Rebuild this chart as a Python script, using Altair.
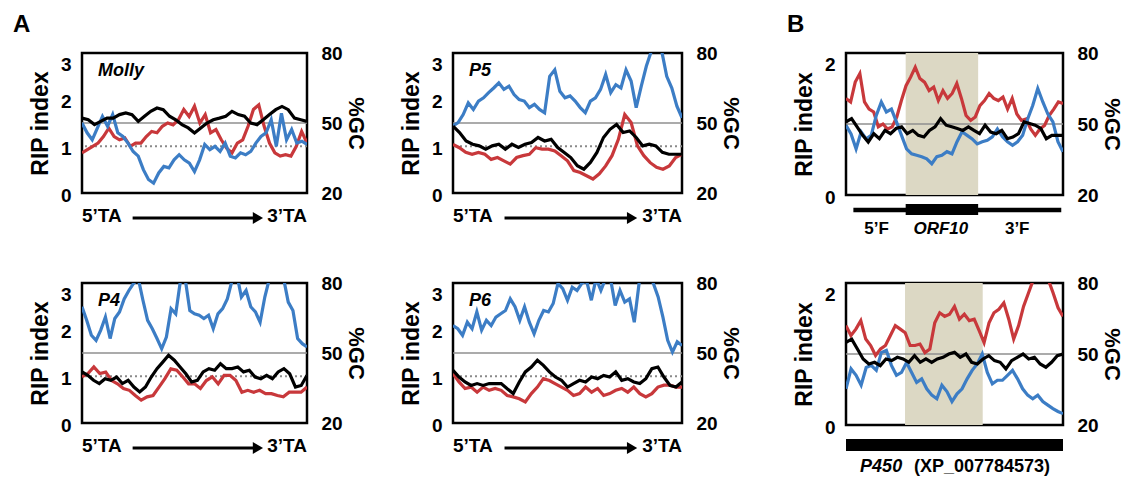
import altair as alt
import pandas as pd

FONT = "Liberation Sans"
BLUE = "#3c7dc5"
RED = "#c8383b"
SHADE = "#dcd8c4"

# ---------------- data ----------------
molly_blue = [1.5, 1.29, 1.14, 1.39, 1.64, 1.43, 1.68, 1.29, 1.21, 1.07, 0.89, 0.79, 0.5, 0.29, 0.21,
              0.43, 0.57, 0.54, 0.71, 0.82, 0.71, 0.64, 0.46, 0.71, 1.04, 0.93, 1.0, 0.89, 1.07, 0.79,
              0.75, 0.86, 0.82, 0.89, 1.07, 1.21, 1.29, 1.57, 1.0, 1.71, 1.14, 1.36, 1.07, 1.11, 1.04]
molly_red = [0.86, 0.93, 1.0, 1.07, 1.21, 1.39, 1.21, 1.14, 1.18, 1.0, 1.07, 1.07, 1.21, 1.32, 1.29,
             1.43, 1.5, 1.46, 1.57, 1.79, 1.64, 1.86, 1.5, 1.68, 1.29, 1.36, 1.14, 0.96, 0.86, 1.07,
             1.14, 1.43, 1.79, 1.89, 1.43, 1.07, 0.86, 0.79, 0.82, 0.79, 1.0, 1.32, 1.07]
molly_gc = [52.1, 51.4, 49.3, 50.7, 52.1, 52.1, 53.6, 54.3, 53.6, 50.7, 52.9, 55.0, 56.4, 55.7, 52.9,
            51.4, 49.3, 47.9, 45.7, 47.9, 50.0, 51.4, 52.1, 52.9, 55.0, 53.6, 52.9, 50.0, 49.3, 51.4,
            53.6, 55.7, 57.1, 55.7, 52.1, 51.4, 50.7]

p5_blue = [1.44, 1.51, 1.68, 1.93, 1.79, 1.97, 2.04, 2.15, 2.25, 2.36, 2.22, 2.29, 2.11, 2.0, 1.97,
           1.83, 1.9, 1.79, 1.72, 2.5, 2.64, 2.18, 2.04, 2.08, 1.97, 1.83, 1.72, 1.97, 2.04, 2.22,
           2.54, 2.15, 2.32, 2.25, 2.64, 2.4, 1.83, 2.29, 2.72, 3.05, 3.1, 3.05, 2.5, 2.25, 1.86, 1.61]
p5_red = [1.04, 0.97, 0.87, 0.83, 0.87, 0.83, 0.72, 0.76, 0.69, 0.62, 0.76, 0.8, 0.83, 0.97, 0.94,
          0.94, 0.9, 0.8, 0.69, 0.48, 0.44, 0.37, 0.3, 0.41, 0.58, 0.8, 1.15, 1.68, 1.51, 1.01,
          0.8, 0.65, 0.55, 0.51, 0.58, 0.76, 0.83]
p5_gc = [48.7, 45.9, 42.3, 40.9, 40.2, 38.8, 40.2, 40.9, 38.8, 40.9, 39.5, 40.9, 41.6, 43.8, 42.3,
         43.0, 39.5, 37.4, 35.2, 31.7, 30.2, 33.1, 37.4, 43.8, 47.3, 49.4, 45.9, 46.6, 43.8, 40.2,
         40.9, 40.2, 37.4, 36.6, 36.6, 36.6]

p4_blue = [2.49, 2.2, 1.88, 1.77, 1.99, 2.27, 1.81, 2.24, 2.38, 2.66, 2.84, 2.99, 3.1, 2.63, 2.2,
           2.02, 1.81, 1.59, 1.84, 2.45, 2.34, 3.05, 3.1, 2.41, 2.34, 2.31, 2.24, 2.31, 2.02, 2.34,
           2.45, 2.66, 3.05, 3.2, 2.7, 2.84, 2.49, 2.38, 2.16, 2.7, 3.1, 3.4, 3.4, 3.1, 2.59, 2.41,
           1.81, 1.7, 1.63]
p4_red = [0.99, 1.06, 1.2, 1.06, 1.09, 0.91, 0.84, 0.74, 0.7, 0.59, 0.49, 0.56, 0.59, 0.77, 0.95,
          1.16, 1.13, 0.99, 0.84, 0.84, 0.74, 0.91, 0.99, 0.84, 1.02, 1.02, 0.91, 0.66, 0.7, 0.66,
          0.7, 0.63, 0.63, 0.59, 0.56, 0.66, 0.66, 0.66, 0.77]
p4_gc = [41.9, 40.4, 38.3, 36.9, 39.0, 38.3, 39.7, 36.9, 38.3, 35.4, 33.3, 35.4, 39.7, 43.3, 46.1,
         49.0, 46.9, 44.0, 41.1, 37.6, 38.3, 41.9, 43.3, 42.6, 45.4, 43.3, 43.3, 44.0, 41.9, 42.6,
         39.7, 39.0, 40.4, 39.0, 41.9, 43.3, 41.1, 35.4, 36.1, 40.4]

p6_blue = [2.09, 2.02, 1.88, 2.16, 2.02, 2.38, 1.99, 2.2, 2.09, 2.27, 2.34, 2.41, 2.66, 2.49, 2.2,
           2.49, 2.16, 1.91, 2.2, 2.41, 2.38, 2.56, 2.99, 2.88, 2.63, 2.91, 2.84, 2.99, 3.05, 2.63,
           3.1, 2.84, 3.1, 3.1, 2.52, 2.84, 2.59, 2.66, 2.16, 2.99, 3.3, 3.3, 2.99, 2.7, 2.27, 1.77,
           1.52, 1.74, 1.66]
p6_red = [1.06, 0.88, 0.74, 0.77, 0.66, 0.77, 0.7, 0.74, 0.7, 0.59, 0.56, 0.52, 0.45, 0.63, 0.77,
          0.95, 0.91, 0.84, 0.77, 0.7, 0.59, 0.63, 0.77, 0.66, 0.74, 0.59, 0.63, 0.7, 0.74, 0.66,
          0.77, 0.63, 0.56, 0.63, 0.77, 0.81, 0.81, 0.77, 0.77]
p6_gc = [42.6, 39.7, 37.6, 36.1, 36.9, 36.1, 36.9, 36.9, 36.9, 34.7, 32.6, 37.6, 41.9, 44.0, 46.9,
         44.7, 41.9, 39.7, 38.3, 35.4, 36.9, 38.3, 37.6, 39.7, 39.0, 40.4, 39.7, 41.9, 38.3, 39.0,
         37.6, 36.9, 39.0, 43.3, 44.0, 39.7, 36.1, 35.4, 37.6]

orf10_red = [1.36, 1.31, 1.59, 1.71, 1.31, 1.21, 1.17, 0.96, 1.0, 0.93, 0.96, 1.1, 1.33, 1.54, 1.66,
             1.8, 1.64, 1.59, 1.47, 1.52, 1.33, 1.47, 1.36, 1.43, 1.57, 1.36, 1.12, 1.05, 1.1, 1.26,
             1.33, 1.43, 1.36, 1.33, 1.38, 1.21, 1.36, 1.14, 1.05, 1.07, 0.93, 0.84, 0.93, 0.98, 1.12,
             1.21, 1.31, 1.29]
orf10_blue = [0.98, 0.86, 0.65, 0.89, 0.79, 0.84, 1.12, 1.31, 1.17, 1.21, 1.03, 0.84, 0.65, 0.58, 0.56,
              0.54, 0.51, 0.44, 0.54, 0.56, 0.61, 0.58, 0.75, 0.89, 0.84, 0.79, 0.72, 0.75, 0.77, 0.82,
              0.93, 0.82, 0.75, 0.7, 0.75, 0.84, 1.07, 1.26, 1.5, 1.31, 1.14, 1.03, 0.75, 0.61]
orf10_gc = [50.9, 52.3, 48.8, 45.2, 42.4, 45.9, 43.8, 47.3, 45.9, 48.1, 48.8, 45.9, 47.3, 45.2, 44.5,
            47.3, 48.8, 52.3, 49.5, 48.8, 48.1, 47.3, 48.8, 47.3, 45.9, 49.5, 46.6, 45.9, 47.3, 43.8,
            44.5, 45.9, 50.9, 50.2, 49.5, 48.1, 43.8, 45.2, 45.2, 45.2]

p450_red = [1.4, 1.26, 1.35, 1.47, 1.21, 1.12, 0.98, 1.07, 1.12, 1.26, 1.4, 1.35, 1.3, 1.12, 1.12,
            1.14, 1.02, 1.07, 1.44, 1.58, 1.53, 1.56, 1.67, 1.49, 1.56, 1.47, 1.49, 1.33, 1.16, 1.44,
            1.58, 1.63, 1.72, 1.49, 1.21, 1.4, 1.67, 1.86, 2.05, 2.1, 2.07, 2.05, 1.86, 1.65, 1.53]
p450_blue = [0.51, 0.79, 0.7, 0.56, 0.81, 0.84, 0.77, 1.02, 1.05, 0.84, 0.7, 0.74, 0.88, 0.74, 0.6,
             0.65, 0.51, 0.42, 0.37, 0.56, 0.47, 0.33, 0.44, 0.51, 0.65, 0.77, 0.86, 1.0, 0.74, 0.58,
             0.63, 0.63, 0.7, 0.77, 0.65, 0.51, 0.42, 0.37, 0.42, 0.33, 0.28, 0.23, 0.19, 0.16]
p450_gc = [54.9, 56.3, 52.1, 47.9, 45.8, 46.5, 45.1, 47.9, 47.2, 48.6, 47.9, 46.5, 49.3, 46.5, 47.9,
           46.5, 47.9, 48.6, 50.0, 50.7, 48.6, 50.0, 46.5, 45.8, 47.9, 49.3, 47.2, 46.5, 43.7, 47.2,
           48.6, 50.0, 47.9, 48.6, 45.8, 44.4, 46.5, 49.3, 50.0]

# axis ticks / reference lines
A_RIP_TICKS = [0, 1, 2, 3]
B_RIP_TICKS = [0, 1, 2]
GC_TICKS = [20, 50, 80]
A_SOLID_LINE = [1.5]
A_DOTTED_LINE = [1.0]
B_SOLID_LINE = [1.0]

# annotation positions along the element (percent of the window)
TA_LABELS = ["5\u2019TA", "3\u2019TA"]
TA_ARROW = [22.5, 77.0]
TA_ARROW_HEAD = [78.2]
ORF10_SHADE = [27.5, 60.9]
ORF10_FLANK = [3.4, 99.2]
ORF10_LABELS = ["5\u2019F", "ORF10", "3\u2019F"]
ORF10_LABEL_X = [14.1, 43.7, 78.9]
P450_SHADE = [27.2, 63.0]
P450_BAR = [0, 100]
P450_LABELS = ["P450", "(XP_007784573)"]
P450_LABEL_X = [6.5, 31.3]

# ---------------- helpers ----------------
XS = alt.X("x:Q", scale=alt.Scale(domain=[0, 100]), axis=None)
LW = 3.2


def series_df(vals):
    n = len(vals)
    return pd.DataFrame({"x": [i * 100.0 / (n - 1) for i in range(n)], "v": vals})


def left_axis(ticks):
    return alt.Axis(values=ticks, format="d", title="RIP index", titleFontSize=23,
                    titleFontWeight="bold", titleFont=FONT, titleColor="black", titlePadding=8,
                    labelFontSize=19, labelFontWeight="bold", labelFont=FONT, labelColor="black",
                    labelPadding=11, labelOffset=2, ticks=False, domain=False, grid=False,
                    labelBaseline={"condition": {"test": f"datum.value == {ticks[-1]}", "value": "top"},
                                   "value": "middle"})


def right_axis():
    return alt.Axis(values=GC_TICKS, format="d", orient="right", title="%GC", titleFontSize=22,
                    titleFontWeight="bold", titleFont=FONT, titleColor="black", titlePadding=1,
                    labelFontSize=19, labelFontWeight="bold", labelFont=FONT, labelColor="black",
                    labelPadding=14, ticks=False, domain=False, grid=False)


def txt(texts, xs, y, align="center", size=19, style="normal", weight="bold"):
    df = pd.DataFrame({"x": xs, "t": texts})
    return alt.Chart(df).mark_text(align=align, baseline="middle", fontSize=size, font=FONT,
                                   fontStyle=style, fontWeight=weight, color="black").encode(
        x=XS, y=alt.value(y), text="t:N")


def panel(name, blue, red, gc, ticks, kind, width, height, letter=None):
    ymax = ticks[-1]
    ys = alt.Y("v:Q", scale=alt.Scale(domain=[0, ymax]), axis=left_axis(ticks))
    layers = []
    if kind == "orf10" or kind == "p450":
        sh = ORF10_SHADE if kind == "orf10" else P450_SHADE
        layers.append(alt.Chart(pd.DataFrame({"x": [sh[0]], "x2": [sh[1]]})).mark_rect(
            color=SHADE).encode(x=XS, x2="x2:Q"))
    if kind == "ta":
        layers.append(alt.Chart(pd.DataFrame({"v": A_SOLID_LINE})).mark_rule(
            color="#8f8f8f", strokeWidth=1.5).encode(y=ys))
        layers.append(alt.Chart(pd.DataFrame({"v": A_DOTTED_LINE})).mark_rule(
            color="#8a8a8a", strokeWidth=2, strokeDash=[2, 3]).encode(y=ys))
    else:
        layers.append(alt.Chart(pd.DataFrame({"v": B_SOLID_LINE})).mark_rule(
            color="#8f8f8f", strokeWidth=1.5).encode(y=ys))
    layers.append(alt.Chart(series_df(red)).mark_line(color=RED, strokeWidth=LW, clip=True).encode(x=XS, y=ys))
    layers.append(alt.Chart(series_df(blue)).mark_line(color=BLUE, strokeWidth=LW, clip=True).encode(x=XS, y=ys))

    if name:
        layers.append(alt.Chart(pd.DataFrame({"t": [name]})).mark_text(
            align="left", baseline="top", fontSize=18, font=FONT, fontStyle="italic",
            fontWeight="bold", color="black").encode(x=alt.value(16), y=alt.value(9), text="t:N"))
    if letter:
        layers.append(alt.Chart(pd.DataFrame({"t": [letter[0]]})).mark_text(
            align="left", baseline="top", fontSize=24, font=FONT, fontWeight="bold",
            color="black").encode(x=alt.value(letter[1]), y=alt.value(-40), text="t:N"))

    if kind == "ta":
        layers.append(txt([TA_LABELS[0]], [0], height + 23, align="left"))
        layers.append(txt([TA_LABELS[1]], [100], height + 23, align="right"))
        layers.append(alt.Chart(pd.DataFrame({"x": [TA_ARROW[0]], "x2": [TA_ARROW[1]]})).mark_rule(
            color="black", strokeWidth=3).encode(x=XS, x2="x2:Q", y=alt.value(height + 25)))
        layers.append(alt.Chart(pd.DataFrame({"x": TA_ARROW_HEAD})).mark_point(
            shape="triangle-right", size=140, filled=True, color="black", opacity=1).encode(
            x=XS, y=alt.value(height + 25)))
    elif kind == "orf10":
        layers.append(alt.Chart(pd.DataFrame({"x": [ORF10_FLANK[0]], "x2": [ORF10_FLANK[1]]})).mark_rule(
            color="black", strokeWidth=4.5).encode(x=XS, x2="x2:Q", y=alt.value(157)))
        layers.append(alt.Chart(pd.DataFrame({"x": [ORF10_SHADE[0]], "x2": [ORF10_SHADE[1]]})).mark_rect(
            color="black").encode(x=XS, x2="x2:Q", y=alt.value(151), y2=alt.value(162)))
        layers.append(txt([ORF10_LABELS[0]], [ORF10_LABEL_X[0]], 176, size=17))
        layers.append(txt([ORF10_LABELS[1]], [ORF10_LABEL_X[1]], 176, size=17, style="italic"))
        layers.append(txt([ORF10_LABELS[2]], [ORF10_LABEL_X[2]], 176, size=17))
    else:
        layers.append(alt.Chart(pd.DataFrame({"x": [P450_BAR[0]], "x2": [P450_BAR[1]]})).mark_rect(
            color="black").encode(x=XS, x2="x2:Q", y=alt.value(156), y2=alt.value(168)))
        layers.append(txt([P450_LABELS[0]], [P450_LABEL_X[0]], 184, align="left", size=18, style="italic"))
        layers.append(txt([P450_LABELS[1]], [P450_LABEL_X[1]], 184, align="left", size=18))

    left = alt.layer(*layers)
    right = alt.Chart(pd.DataFrame({"x": series_df(gc)["x"], "g": gc})).mark_line(
        color="black", strokeWidth=LW, clip=True).encode(
        x=XS, y=alt.Y("g:Q", scale=alt.Scale(domain=[20, 80]), axis=right_axis()))
    return alt.layer(left, right).resolve_scale(y="independent").properties(
        width=width, height=height,
        view=alt.ViewBackground(stroke="black", strokeWidth=2.5, fill="white"))


def spacer(w, h):
    return alt.Chart(pd.DataFrame({"a": [0]})).mark_point(opacity=0).encode(
        x=alt.value(0), y=alt.value(0)).properties(
        width=w, height=h, view=alt.ViewBackground(stroke=None, fill=None))


cells = [
    panel("Molly", molly_blue, molly_red, molly_gc, A_RIP_TICKS, "ta", 225, 140, letter=("A", -69)),
    spacer(146, 10),
    panel("P5", p5_blue, p5_red, p5_gc, A_RIP_TICKS, "ta", 229, 140),
    spacer(164, 10),
    panel(None, orf10_blue, orf10_red, orf10_gc, B_RIP_TICKS, "orf10", 217, 142, letter=("B", -59)),
    panel("P4", p4_blue, p4_red, p4_gc, A_RIP_TICKS, "ta", 225, 140),
    spacer(146, 10),
    panel("P6", p6_blue, p6_red, p6_gc, A_RIP_TICKS, "ta", 229, 140),
    spacer(164, 10),
    panel(None, p450_blue, p450_red, p450_gc, B_RIP_TICKS, "p450", 217, 142),
]

chart = alt.concat(*cells, columns=5, spacing=alt.RowColnumber(row=88, column=0),
                   bounds="flush", align="each").properties(
    padding={"left": 11, "top": 11, "right": 5, "bottom": 5},
    background="white",
).configure_view(stroke=None).configure(font=FONT)

chart.save("out.html", embed_options={"renderer": "svg", "actions": False})
